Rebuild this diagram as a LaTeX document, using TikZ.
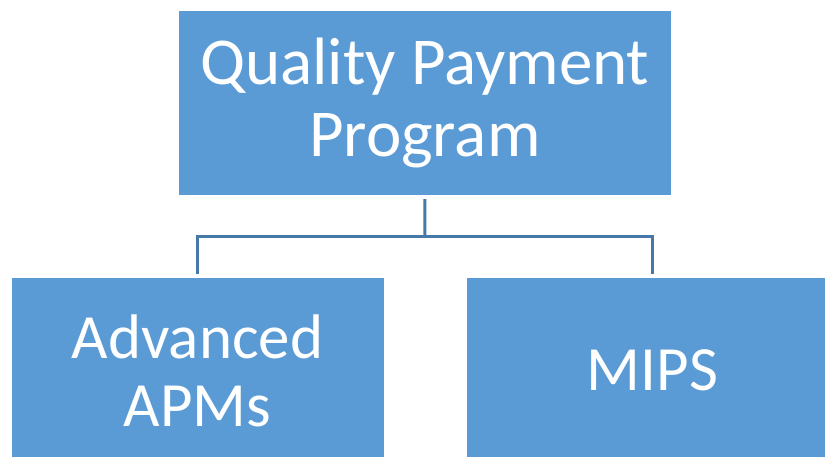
\documentclass[tikz,border=0pt]{standalone}
\usepackage{fontspec}
\setmainfont{Carlito}
\begin{document}
\begin{tikzpicture}[x=1pt,y=-1pt,
  orgbox/.style={fill=boxblue, draw=none, inner sep=0pt, align=center, text=white},
  conn/.style={draw=linkblue, line width=3pt, line join=miter}]
\definecolor{boxblue}{HTML}{5B9BD5}
\definecolor{linkblue}{HTML}{4678A8}
\useasboundingbox (0,0) rectangle (825,456);
\clip (0,0) rectangle (825,456);
% top level
\node[orgbox, minimum width=491.5pt, minimum height=184.5pt,
      font=\fontsize{67}{72}\selectfont] (top) at (424.75,102.75)
  {Quality Payment\\Program};
% second level
\node[orgbox, minimum width=372pt, minimum height=185pt,
      font=\fontsize{63}{68}\selectfont] (left) at (197.5,370.5)
  {Advanced\\APMs};
\node[orgbox, minimum width=372pt, minimum height=185pt,
      font=\fontsize{63}{68}\selectfont] (right) at (652.5,370.5)
  {MIPS};
% connectors
\coordinate (bus) at (425,236);
\draw[conn, shorten <=4pt] (top.south) -- (bus);
\draw[conn, shorten <=4pt, shorten >=4pt] (left.north) |- (bus) -| (right.north);
\end{tikzpicture}
\end{document}
